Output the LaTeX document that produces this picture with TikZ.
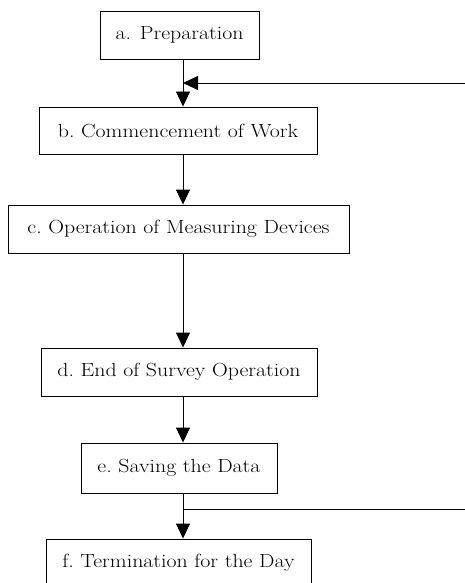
\documentclass[tikz,border=0pt]{standalone}
\usepackage{graphicx}
\usetikzlibrary{arrows.meta}
\newcommand{\wtxt}[1]{\scalebox{1.15}[1]{#1}}
\begin{document}
\begin{tikzpicture}[x=1pt,y=-1pt,
  box/.style={draw, line width=0.9pt, inner sep=0pt, align=center, font=\fontsize{19}{21}\selectfont},
  arr/.style={line width=0.9pt, -{Triangle[width=14pt,length=15pt]}},
  ln/.style={line width=0.9pt}]
\useasboundingbox (0,0) rectangle (465,583);
\clip (0,0) rectangle (465,583);
\node[box, minimum width=159pt, minimum height=48pt] (a) at (179.5,35) {\wtxt{a. Preparation}};
\node[box, minimum width=278pt, minimum height=47pt] (b) at (178,130.5) {\wtxt{b.\ Commencement of Work}};
\node[box, minimum width=341pt, minimum height=48pt] (c) at (178.5,229) {\wtxt{c.\ Operation of Measuring Devices}};
\node[box, minimum width=276pt, minimum height=48pt] (d) at (179,372) {\wtxt{d.\ End of Survey Operation}};
\node[box, minimum width=196pt, minimum height=50pt] (e) at (179,468) {\wtxt{e.\ Saving the Data}};
\node[box, minimum width=265pt, minimum height=48pt] (f) at (178.5,563) {\wtxt{f.\ Termination for the Day}};
\coordinate (spine) at (183,0);
\coordinate (r1) at (466,83);
\coordinate (r2) at (466,509);
\draw[arr] (a.south -| spine) -- (b.north -| spine);
\draw[arr] (b.south -| spine) -- (c.north -| spine);
\draw[arr] (c.south -| spine) -- (d.north -| spine);
\draw[arr] (d.south -| spine) -- (e.north -| spine);
\draw[arr] (e.south -| spine) -- (f.north -| spine);
\draw[arr] (r1) -- (r1 -| spine);
\draw[ln] (r2 -| spine) -- (r2);
\end{tikzpicture}
\end{document}
